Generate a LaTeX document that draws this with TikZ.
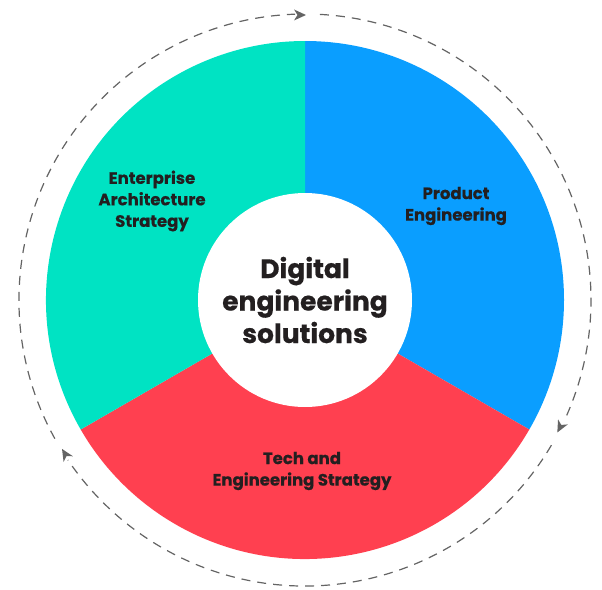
\documentclass[tikz,border=0pt]{standalone}
\usepackage{fontspec}
\setmainfont{Poppins}[FakeBold=0.5]
\definecolor{cteal}{RGB}{0,227,195}
\definecolor{cblue}{RGB}{10,158,255}
\definecolor{cred}{RGB}{255,64,80}
\definecolor{ctext}{RGB}{35,31,32}
\definecolor{cdash}{RGB}{100,100,100}
\tikzset{
  lbl/.style={text=ctext, align=center, font=\fontsize{16.5}{21.5}\selectfont\bfseries},
  ring/.style={draw=cdash, line width=1.2pt, dash pattern=on 9pt off 7pt},
}
\newcommand{\cwhead}[1]{%
  \begin{scope}[shift={(c)}, rotate=#1]
    \fill[cdash] (285,0) -- (290.5,12) -- (285,8.5) -- (279.5,12) -- cycle;
  \end{scope}}
\begin{document}
\begin{tikzpicture}[x=1pt,y=1pt]
\useasboundingbox (0,0) rectangle (602,-589);
\coordinate (c) at (305,-300);
% segments
\fill[cblue] (c) -- ++(90:259) arc[start angle=90,end angle=-30,radius=259] -- cycle;
\fill[cred] (c) -- ++(-30:259) arc[start angle=-30,end angle=-150,radius=259] -- cycle;
\fill[cteal] (c) -- ++(210:259) arc[start angle=210,end angle=90,radius=259] -- cycle;
\fill[white] (c) circle[radius=107];
% dashed ring
\draw[ring] (c) ++(87:286) arc[start angle=87,end angle=-25,radius=286];
\draw[ring] (c) ++(-30.5:286) arc[start angle=-30.5,end angle=-146,radius=286];
\draw[ring] (c) ++(-151:286) arc[start angle=-151,end angle=-268,radius=286];
% arrow heads (clockwise)
\cwhead{89.8}
\cwhead{-27.7}
\cwhead{-148.5}
% labels
\node[text=ctext, align=center, font=\fontsize{26.5}{32.5}\selectfont\bfseries] (center) at (c) {Digital\\engineering\\solutions};
\node[lbl] (ea) at (152,-201) {Enterprise\\Architecture\\Strategy};
\node[lbl] (pe) at (456,-206) {Product\\Engineering};
\node[lbl] (te) at (302,-471) {Tech and\\Engineering Strategy};
\end{tikzpicture}
\end{document}
